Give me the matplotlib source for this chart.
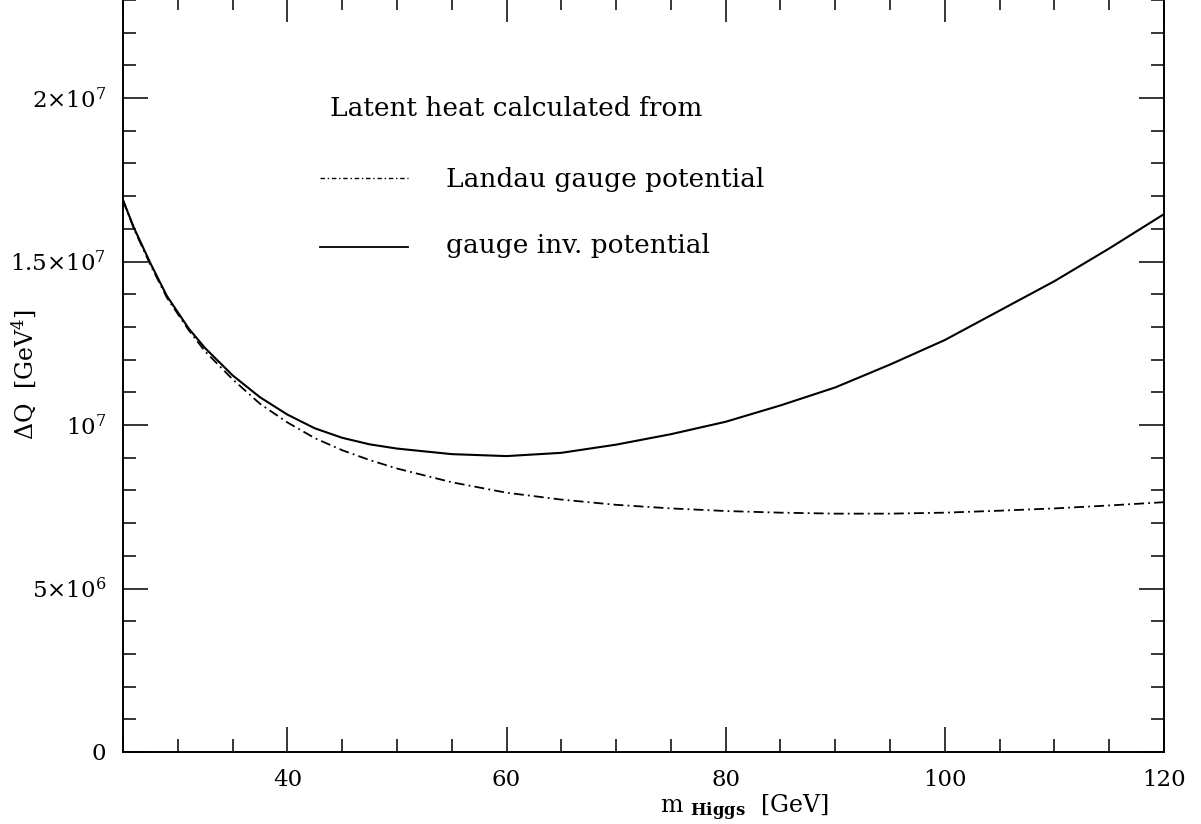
import matplotlib
matplotlib.use("Agg")
import matplotlib.pyplot as plt
from matplotlib.ticker import MultipleLocator, FixedLocator, FixedFormatter

# ---- data (units of 1e6 GeV^4) ----
m_higgs = [25, 26, 27.5, 29, 31, 32.5, 35, 37.5, 40, 42.5, 45, 47.5, 50,
           55, 60, 65, 70, 75, 80, 85, 90, 95, 100, 105, 110, 115, 120]
dq_gauge_inv = [16.88, 16.03, 14.95, 13.95, 12.95, 12.35, 11.52, 10.85, 10.32,
                9.9, 9.61, 9.41, 9.28, 9.11, 9.05, 9.15, 9.4, 9.72, 10.1,
                10.6, 11.15, 11.85, 12.6, 13.5, 14.4, 15.4, 16.45]
dq_landau = [16.88, 16.0, 14.9, 13.9, 12.9, 12.25, 11.4, 10.65, 10.08, 9.6,
             9.23, 8.93, 8.67, 8.25, 7.93, 7.72, 7.56, 7.45, 7.37, 7.32,
             7.29, 7.29, 7.32, 7.38, 7.45, 7.54, 7.64]
scale = 1e6

ytick_vals = [0, 5e6, 1e7, 1.5e7, 2e7]
ytick_labels = [r"$0$", r"$5{\times}10^{6}$", r"$10^{7}$",
                r"$1.5{\times}10^{7}$", r"$2{\times}10^{7}$"]
xtick_vals = [40, 60, 80, 100, 120]
xtick_labels = ["40", "60", "80", "100", "120"]

title_text = "Latent heat calculated from"
label_landau = "Landau gauge potential"
label_inv = "gauge inv. potential"

plt.rcParams["font.family"] = ["DejaVu Serif"]
plt.rcParams["mathtext.fontset"] = "dejavuserif"

W, H = 1201, 824
fig = plt.figure(figsize=(W / 100, H / 100), dpi=100)
left, right, bottom, top = 123 / W, 1164 / W, (H - 752) / H, 1.004
ax = fig.add_axes([left, bottom, right - left, top - bottom])

y_top = 23.1e6
ax.set_xlim(25, 120)
ax.set_ylim(0, y_top)

dash_style = (5.5, 2.3, 1.0, 2.3)
ax.plot(m_higgs, [v * scale for v in dq_landau], color="black", lw=1.3,
        dashes=dash_style, solid_joinstyle="round")
ax.plot(m_higgs, [v * scale for v in dq_gauge_inv], color="black", lw=1.5,
        solid_joinstyle="round")

# ticks
ax.xaxis.set_major_locator(FixedLocator(xtick_vals))
ax.xaxis.set_major_formatter(FixedFormatter(xtick_labels))
ax.xaxis.set_minor_locator(MultipleLocator(5))
ax.yaxis.set_major_locator(FixedLocator(ytick_vals))
ax.yaxis.set_major_formatter(FixedFormatter(ytick_labels))
ax.yaxis.set_minor_locator(MultipleLocator(1e6))
ax.tick_params(which="both", direction="in", top=True, right=True,
               width=1.1, colors="black", labelsize=16.5)
ax.tick_params(which="major", length=18, pad=12)
ax.tick_params(which="minor", length=9.5)
for s in ax.spines.values():
    s.set_linewidth(1.4)

# axis labels
ax.set_xlabel(r"m $_{\mathbf{Higgs}}$  [GeV]", fontsize=17, labelpad=0)
ax.xaxis.set_label_coords((744 - 123) / 1041, -0.054)
ax.set_ylabel(r"$\Delta$Q  [GeV$^{4}$]", fontsize=17)
ax.yaxis.set_label_coords(-0.082, 0.5)

# legend-like annotations
fs = 19
ax.text((330 - 123) / 1041, (752 - 111) / 752, title_text,
        transform=ax.transAxes, fontsize=fs, va="center", ha="left")
ax.text((446 - 123) / 1041, (752 - 182) / 752, label_landau,
        transform=ax.transAxes, fontsize=fs, va="center", ha="left")
ax.text((446 - 123) / 1041, (752 - 248) / 752, label_inv,
        transform=ax.transAxes, fontsize=fs, va="center", ha="left")
x0, x1 = (320 - 123) / 1041, (408 - 123) / 1041
ax.plot([x0, x1], [(752 - 181) / 752] * 2, transform=ax.transAxes,
        color="black", lw=1.0, dashes=(3.2, 2.0, 1.0, 2.0))
ax.plot([x0, x1], [(752 - 249) / 752] * 2, transform=ax.transAxes,
        color="black", lw=1.3)

fig.savefig("out.png", dpi=100)
